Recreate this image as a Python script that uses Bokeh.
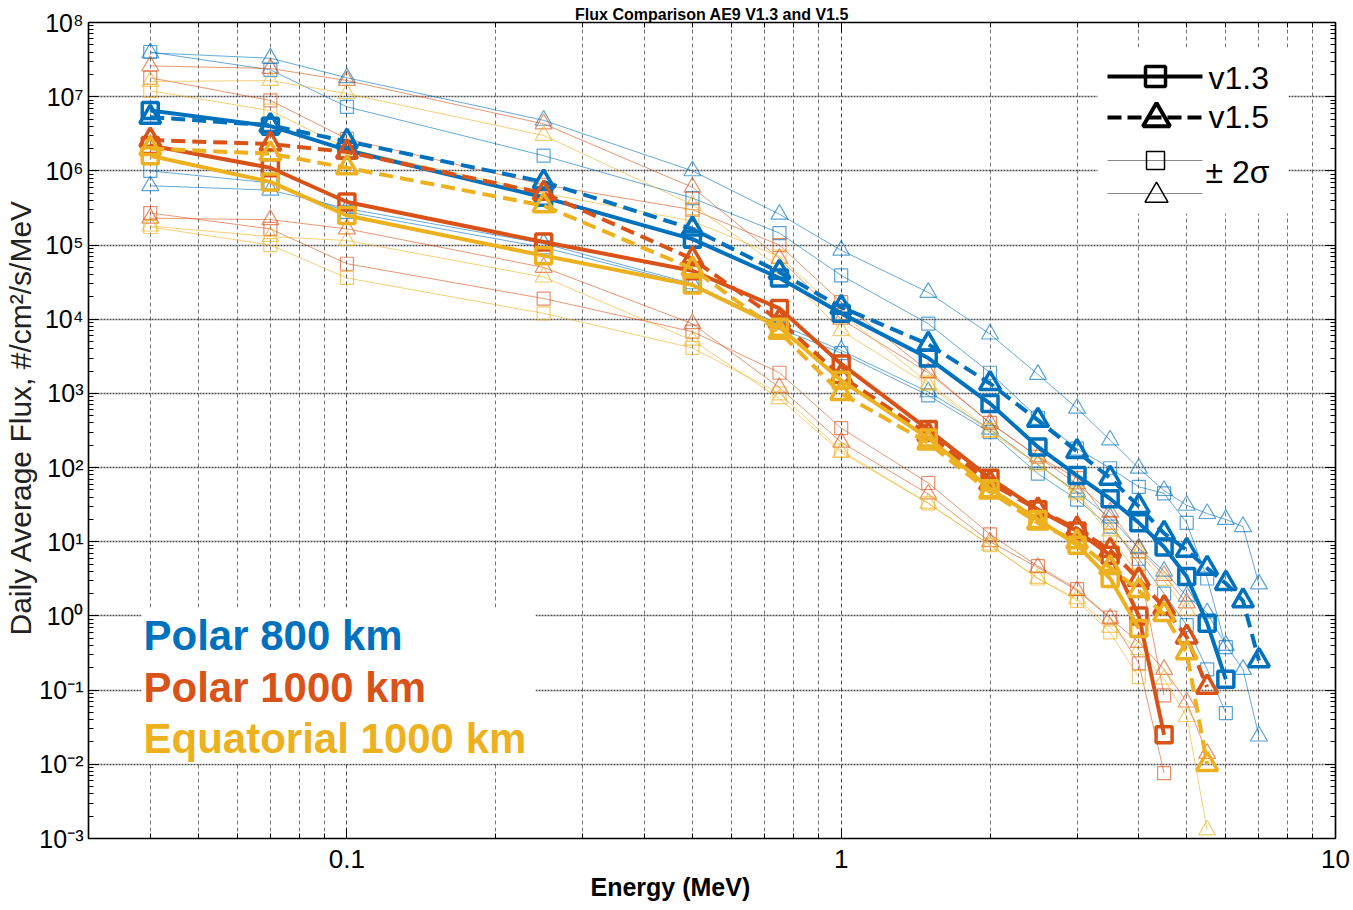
import math
from bokeh.plotting import figure
from bokeh.models import FixedTicker, CustomJSTickFormatter, LogAxis, Label, Title
from bokeh.embed import file_html
from bokeh.resources import INLINE

# ---------------- data ----------------
energy = [0.04, 0.07, 0.1, 0.25, 0.5, 0.75, 1.0, 1.5, 2.0, 2.5, 3.0, 3.5, 4.0, 4.5, 5.0, 5.5, 6.0, 6.5, 7.0]

# Polar 800 km
p800_v13 = [6.5e6, 4.0e6, 1.9e6, 4.4e5, 1.2e5, 3.6e4, 1.2e4, 3.0e3, 7.3e2, 1.9e2, 78, 38, 18, 8.5, 3.4, 0.8, 0.14]
p800_v15 = [5.3e6, 4.1e6, 2.5e6, 7.1e5, 1.65e5, 4.3e4, 1.45e4, 4.6e3, 1.36e3, 4.35e2, 165, 72, 30, 13, 7.7, 4.4, 2.75, 1.6, 0.25]
p800_v13_hi = [4.0e7, 2.3e7, 7.3e6, 1.6e6, 4.3e5, 1.45e5, 3.9e4, 8.7e3, 1.9e3, 4.7e2, 180, 98, 55, 45, 18, 3.2, 0.38]
p800_v13_lo = [1.0e6, 6.9e5, 2.8e5, 9.3e4, 2.9e4, 7.5e3, 3.5e3, 9.4e2, 3.0e2, 83, 37, 16, 5.9, 2.0, 0.75, 0.19, 0.049]
p800_v15_hi = [3.9e7, 3.3e7, 1.8e7, 4.8e6, 1.0e6, 2.6e5, 8.5e4, 2.3e4, 6.3e3, 1.8e3, 630, 235, 98, 49, 31, 24, 20, 16, 2.7]
p800_v15_lo = [6.3e5, 5.5e5, 3.1e5, 1.05e5, 3.0e4, 8.5e3, 3.8e3, 1.05e3, 3.3e2, 1.1e2, 47, 21, 8.2, 4.0, 1.85, 1.1, 0.4, 0.19, 0.024]

# Polar 1000 km
p1000_v13 = [2.2e6, 1.1e6, 3.8e5, 1.1e5, 4.5e4, 1.4e4, 2.5e3, 3.25e2, 72, 27, 14, 6.6, 1.0, 0.025]
p1000_v15 = [2.6e6, 2.3e6, 1.8e6, 5.0e5, 6.5e4, 9.5e3, 1.7e3, 2.8e2, 62, 27, 15, 7.7, 3.1, 1.3, 0.52, 0.11]
p1000_v13_hi = [1.8e7, 8.9e6, 2.7e6, 6.5e5, 3.0e5, 1.0e5, 1.7e4, 2.0e3, 4.0e2, 1.4e2, 72, 18, 5.0, 0.085]
p1000_v13_lo = [2.7e5, 1.65e5, 5.6e4, 1.9e4, 6.8e3, 1.9e3, 3.4e2, 62, 12.6, 4.7, 2.3, 0.95, 0.23, 0.0076]
p1000_v15_hi = [2.6e7, 2.4e7, 1.65e7, 4.3e6, 6.0e5, 6.6e4, 1.0e4, 1.9e3, 4.0e2, 1.4e2, 60, 25, 8.0, 3.5, 1.5]
p1000_v15_lo = [2.3e5, 2.2e5, 1.65e5, 5.0e4, 8.7e3, 1.2e3, 2.2e2, 44, 10, 4.5, 2.2, 0.93, 0.44, 0.19, 0.069, 0.014]

# Equatorial 1000 km
eq_v13 = [1.6e6, 7.1e5, 2.5e5, 7.2e4, 2.9e4, 7.8e3, 1.5e3, 2.5e2, 52, 20, 9.0, 3.2, 0.68]
eq_v15 = [2.0e6, 1.7e6, 1.1e6, 3.4e5, 4.8e4, 6.7e3, 1.0e3, 2.15e2, 47, 18, 10, 4.5, 2.2, 1.05, 0.32, 0.01]
eq_v13_hi = [1.2e7, 6.5e6, 2.0e6, 5.0e5, 2.1e5, 7.0e4, 1.2e4, 1.4e3, 3.2e2, 1.1e2, 45, 12, 3.5]
eq_v13_lo = [1.75e5, 1.0e5, 3.6e4, 1.2e4, 4.1e3, 1.0e3, 1.7e2, 33, 9.0, 3.2, 1.6, 0.6, 0.15]
eq_v15_hi = [1.6e7, 1.65e7, 1.1e7, 3.0e6, 3.5e5, 5.0e4, 7.0e3, 1.3e3, 3.0e2, 1.1e2, 45, 14, 7.0, 3.0, 1.2]
eq_v15_lo = [1.8e5, 1.3e5, 1.15e5, 3.7e4, 5.2e3, 8.5e2, 1.6e2, 33, 9.0, 3.2, 1.7, 0.7, 0.35, 0.14, 0.044, 0.0013]

orbit_names = ["Polar 800 km", "Polar 1000 km", "Equatorial 1000 km"]
orbit_colors = ["#0072BD", "#D95319", "#EDB120"]
x_tick_values = [0.1, 1, 10]
y_exponents = list(range(-3, 9))

# ---------------- layout (page pixels; the canvas starts at the page corner) ----------------
W, H = 1350, 910
FL, FR, FT, FB = 88, 1335, 22, 838
X0, X1 = 0.03, 10.0
Y0, Y1 = 1e-3, 1e8
FONT = "Liberation Sans"


def px2x(cx):
    lx0, lx1 = math.log10(X0), math.log10(X1)
    return 10 ** (lx0 + (cx - FL) / (FR - FL) * (lx1 - lx0))


def px2y(cy):
    ly0, ly1 = math.log10(Y0), math.log10(Y1)
    return 10 ** (ly1 - (cy - FT) / (FB - FT) * (ly1 - ly0))


p = figure(width=W, height=H, x_axis_type="log", y_axis_type="log",
           x_range=(X0, X1), y_range=(Y0, Y1),
           output_backend="svg", toolbar_location=None,
           min_border_left=FL, min_border_right=W - FR,
           min_border_top=FT, min_border_bottom=H - FB)
p.background_fill_color = "white"
p.border_fill_color = "white"
p.outline_line_color = "black"
p.outline_line_width = 1.5

xt = FixedTicker(ticks=x_tick_values,
                 minor_ticks=[m * 10.0 ** e for e in (-2, -1, 0) for m in range(2, 10)
                              if X0 * 0.999 <= m * 10.0 ** e <= X1])
yt = FixedTicker(ticks=[10.0 ** e for e in y_exponents],
                 minor_ticks=[m * 10.0 ** e for e in y_exponents[:-1] for m in range(2, 10)])

yfmt = CustomJSTickFormatter(code="""
const e = Math.round(Math.log10(tick));
const m = {"-":"\u207B","0":"\u2070","1":"\u00B9","2":"\u00B2","3":"\u00B3","4":"\u2074",
           "5":"\u2075","6":"\u2076","7":"\u2077","8":"\u2078","9":"\u2079"};
return "10" + String(e).split("").map(c => m[c]).join("");
""")
xfmt = CustomJSTickFormatter(code="return String(Math.round(tick*1000)/1000);")
blank = CustomJSTickFormatter(code="return '';")


def style_axis(ax, ticker, fmt, fs):
    ax.ticker = ticker
    ax.formatter = fmt
    ax.major_tick_in = 10
    ax.major_tick_out = 0
    ax.minor_tick_in = 5
    ax.minor_tick_out = 0
    ax.axis_line_color = "black"
    ax.axis_line_width = 1.2
    ax.major_tick_line_color = "black"
    ax.minor_tick_line_color = "black"
    ax.major_label_text_font = FONT
    ax.major_label_text_font_size = fs
    ax.major_label_text_color = "black"


style_axis(p.xaxis[0], xt, xfmt, "26px")
p.xaxis[0].major_label_standoff = 11
style_axis(p.yaxis[0], yt, yfmt, "25px")
p.yaxis[0].major_label_standoff = 5

ra = LogAxis()
style_axis(ra, yt, blank, "0px")
ra.major_label_standoff = 0
p.add_layout(ra, "right")
ta = LogAxis()
style_axis(ta, xt, blank, "0px")
ta.major_label_standoff = 0
p.add_layout(ta, "above")

# axis titles and chart title (as Title objects in the side panels)
p.add_layout(Title(text="Energy (MeV)", align="left", offset=502, standoff=0,
                   text_font=FONT, text_font_size="25px", text_font_style="bold",
                   text_color="black"), "below")
p.add_layout(Title(text="Daily Average Flux, #/cm\u00b2/s/MeV", align="left", offset=203,
                   standoff=0, text_font=FONT, text_font_size="30px",
                   text_font_style="normal", text_color="#222222"), "left")
p.add_layout(Title(text="Flux Comparison AE9 V1.3 and V1.5", align="center", standoff=0,
                   text_font=FONT, text_font_size="16px", text_font_style="bold",
                   text_color="black"), "above")

p.xgrid.ticker = xt
p.xgrid.grid_line_color = "#2a2a2a"
p.xgrid.grid_line_dash = "4 3"
p.xgrid.grid_line_alpha = 0.85
p.xgrid.minor_grid_line_color = "#2a2a2a"
p.xgrid.minor_grid_line_dash = "4 3"
p.xgrid.minor_grid_line_alpha = 0.65
p.ygrid.ticker = yt
p.ygrid.grid_line_color = "#3a3a3a"
p.ygrid.grid_line_dash = "2 1"
p.ygrid.grid_line_width = 1.6
p.ygrid.grid_line_alpha = 0.9
p.ygrid.minor_grid_line_color = None

# white legend backgrounds (hide grid behind the legends)
p.quad(left=[px2x(1097), px2x(141)], right=[px2x(1288), px2x(535)],
       top=[px2y(47), px2y(607)], bottom=[px2y(213), px2y(763)],
       fill_color="white", line_color=None)

# ---------------- data series ----------------
thin_sets = [
    (p800_v13_hi, p800_v13_lo, p800_v15_hi, p800_v15_lo),
    (p1000_v13_hi, p1000_v13_lo, p1000_v15_hi, p1000_v15_lo),
    (eq_v13_hi, eq_v13_lo, eq_v15_hi, eq_v15_lo),
]
bold_sets = [(p800_v13, p800_v15), (p1000_v13, p1000_v15), (eq_v13, eq_v15)]

for (hi13, lo13, hi15, lo15), c in zip(thin_sets, orbit_colors):
    for ys, mk, sz in ((hi13, "square", 13), (lo13, "square", 13), (hi15, "triangle", 17), (lo15, "triangle", 17)):
        xs = energy[:len(ys)]
        p.line(xs, ys, line_color=c, line_width=1, line_alpha=0.6)
        p.scatter(xs, ys, marker=mk, size=sz, line_color=c, line_width=1.2,
                  line_alpha=0.65, fill_color=None)

for (m13, m15), c in zip(bold_sets, orbit_colors):
    xs = energy[:len(m13)]
    p.line(xs, m13, line_color=c, line_width=4)
    p.scatter(xs, m13, marker="square", size=16, line_color=c, line_width=3.5, fill_color=None)
    xs = energy[:len(m15)]
    p.line(xs, m15, line_color=c, line_width=4, line_dash="14 7")
    p.scatter(xs, m15, marker="triangle", size=21, line_color=c, line_width=3.5, fill_color=None)

# ---------------- top-right legend ----------------
lx = [px2x(1107), px2x(1202)]
p.line(lx, [px2y(76)] * 2, line_color="black", line_width=4)
p.scatter([px2x(1155)], [px2y(76)], marker="square", size=20, line_color="black",
          line_width=3.5, fill_color=None)
p.line(lx, [px2y(117)] * 2, line_color="black", line_width=4, line_dash="14 6")
p.scatter([px2x(1156)], [px2y(118)], marker="triangle", size=27, line_color="black",
          line_width=4, fill_color=None)
p.line(lx, [px2y(160)] * 2, line_color="#8a8a8a", line_width=1)
p.scatter([px2x(1155)], [px2y(160)], marker="square", size=18, line_color="black",
          line_width=1.5, fill_color=None)
p.line(lx, [px2y(193)] * 2, line_color="#8a8a8a", line_width=1)
p.scatter([px2x(1156)], [px2y(195)], marker="triangle", size=23, line_color="black",
          line_width=1.5, fill_color=None)

for txt, cx, cy in (("v1.3", 1208, 77), ("v1.5", 1208, 116), ("\u00b1 2\u03c3", 1205, 171)):
    p.add_layout(Label(x=px2x(cx), y=px2y(cy), text=txt, text_font=FONT,
                       text_font_size="32px", text_color="black",
                       text_align="left", text_baseline="middle"))

# ---------------- lower-left legend ----------------
for txt, c, cy in zip(orbit_names, orbit_colors, (635, 687, 738)):
    p.add_layout(Label(x=px2x(143), y=px2y(cy), text=txt, text_font=FONT,
                       text_font_size="42px", text_font_style="bold", text_color=c,
                       text_align="left", text_baseline="middle"))

open("out.html", "w").write(file_html(p, INLINE))
